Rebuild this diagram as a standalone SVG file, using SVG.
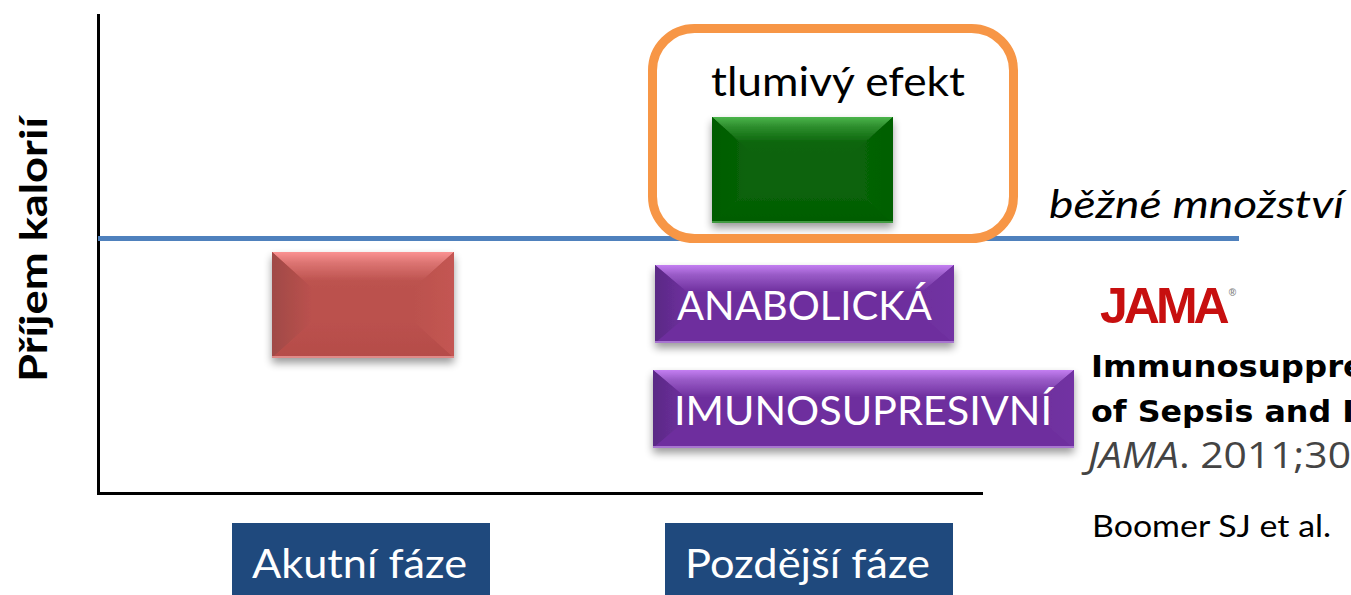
<svg xmlns="http://www.w3.org/2000/svg" width="1351" height="595" viewBox="0 0 1351 595">
<style>
text{font-family:"Lato","Open Sans","Liberation Sans",sans-serif}
.w{fill:#fff;font-size:41px}
.k{fill:#000}
.axis{fill:none;stroke:#000;stroke-width:3}
.pb{fill:#6e2f9e}.rb{fill:#bb514e}.gb{fill:#0a640a}
.shadow{filter:url(#sh)}
.cit{font-family:"DejaVu Sans",sans-serif;font-size:30px;font-weight:700;fill:#000}
</style>
<defs>
<filter id="sh" x="-10%" y="-10%" width="120%" height="130%"><feGaussianBlur in="SourceAlpha" stdDeviation="4"/><feOffset dy="5"/><feComponentTransfer><feFuncA type="linear" slope="0.4"/></feComponentTransfer><feMerge><feMergeNode/><feMergeNode in="SourceGraphic"/></feMerge></filter>
<linearGradient id="pt" x1="0" y1="0" x2="0" y2="1"><stop offset="0" stop-color="#c47ff2"/><stop offset=".35" stop-color="#9a5cc8"/><stop offset="1" stop-color="#6e2f9e"/></linearGradient>
<linearGradient id="pl" x1="0" y1="0" x2="1" y2="0"><stop offset="0" stop-color="#5a2a85"/><stop offset="1" stop-color="#6e2f9e"/></linearGradient>
<linearGradient id="pr" x1="1" y1="0" x2="0" y2="0"><stop offset="0" stop-color="#7232a3"/><stop offset="1" stop-color="#6e2f9e"/></linearGradient>
<linearGradient id="rt" x1="0" y1="0" x2="0" y2="1"><stop offset="0" stop-color="#fb9292"/><stop offset=".3" stop-color="#dc7472"/><stop offset=".8" stop-color="#bd534f"/><stop offset="1" stop-color="#bb514e"/></linearGradient>
<linearGradient id="rl" x1="0" y1="0" x2="1" y2="0"><stop offset="0" stop-color="#a04a46"/><stop offset="1" stop-color="#bb514e"/></linearGradient>
<linearGradient id="rr" x1="1" y1="0" x2="0" y2="0"><stop offset="0" stop-color="#c45652"/><stop offset="1" stop-color="#bb514e"/></linearGradient>
<linearGradient id="rd" x1="0" y1="1" x2="0" y2="0"><stop offset="0" stop-color="#b54c48"/><stop offset="1" stop-color="#bb514e"/></linearGradient>
<linearGradient id="gt" x1="0" y1="0" x2="0" y2="1"><stop offset="0" stop-color="#4cb54c"/><stop offset=".25" stop-color="#2f902f"/><stop offset=".7" stop-color="#0c660c"/><stop offset="1" stop-color="#0a640a"/></linearGradient>
<linearGradient id="gl" x1="0" y1="0" x2="1" y2="0"><stop offset="0" stop-color="#005c00"/><stop offset="1" stop-color="#0a640a"/></linearGradient>
<linearGradient id="gr" x1="1" y1="0" x2="0" y2="0"><stop offset="0" stop-color="#006000"/><stop offset="1" stop-color="#0a640a"/></linearGradient>
<linearGradient id="gd" x1="0" y1="1" x2="0" y2="0"><stop offset="0" stop-color="#005c00"/><stop offset="1" stop-color="#0a640a"/></linearGradient>
</defs>

<g id="axes">
<path class="axis" d="M98.500 14V493.500H983"/>
</g>
<g id="connectors">
<line x1="98" y1="238.500" x2="1239" y2="238.500" stroke="#4f81bd" stroke-width="5"/>
</g>

<g id="node-ylabel"><text class="k" transform="translate(47 382) rotate(-90)" font-size="38" font-weight="700" textLength="265" lengthAdjust="spacingAndGlyphs">Příjem kalorií</text></g>

<g id="node-red" class="shadow">
<rect class="rb" x="272" y="252" width="182" height="106"/>
<polygon points="272,252 454,252 414,288 312,288" fill="url(#rt)"/>
<polygon points="272,252 312,288 312,322 272,358" fill="url(#rl)"/>
<polygon points="454,252 414,288 414,322 454,358" fill="url(#rr)"/>
<polygon points="272,358 312,322 414,322 454,358" fill="url(#rd)"/>
<path d="M272 357H454" stroke="#e08a88" stroke-width="2"/>
</g>

<g id="node-green" class="shadow">
<rect class="gb" x="712" y="117" width="181" height="106"/>
<polygon points="712,117 893,117 853,153 752,153" fill="url(#gt)"/>
<polygon points="712,117 752,153 752,187 712,223" fill="url(#gl)"/>
<polygon points="893,117 853,153 853,187 893,223" fill="url(#gr)"/>
<polygon points="712,223 752,187 853,187 893,223" fill="url(#gd)"/>
<path d="M712 222H893" stroke="#3f9a3f" stroke-width="2"/>
</g>

<g id="node-highlight">
<rect x="652.500" y="28.500" width="361" height="210" rx="42" fill="none" stroke="#f79646" stroke-width="9"/>
<text class="k" x="711" y="96" font-size="41" textLength="254" lengthAdjust="spacingAndGlyphs">tlumivý efekt</text>
</g>

<g id="node-anabolicka">
<g class="shadow">
<rect class="pb" x="655" y="265" width="299" height="78"/>
<polygon points="655,265 954,265 922,292 687,292" fill="url(#pt)"/>
<polygon points="655,265 687,292 687,316 655,343" fill="url(#pl)"/>
<polygon points="954,265 922,292 922,316 954,343" fill="url(#pr)"/>
<path d="M655 342H954" stroke="#a875d0" stroke-width="2"/>
</g>
<text class="w" x="677" y="320" textLength="255" lengthAdjust="spacingAndGlyphs">ANABOLICKÁ</text>
</g>

<g id="node-imunosupresivni">
<g class="shadow">
<rect class="pb" x="653" y="370" width="421" height="78"/>
<polygon points="653,370 1074,370 1042,397 685,397" fill="url(#pt)"/>
<polygon points="653,370 685,397 685,421 653,448" fill="url(#pl)"/>
<polygon points="1074,370 1042,397 1042,421 1074,448" fill="url(#pr)"/>
<path d="M653 447H1074" stroke="#a875d0" stroke-width="2"/>
</g>
<text class="w" x="674" y="425" textLength="378" lengthAdjust="spacingAndGlyphs">IMUNOSUPRESIVNÍ</text>
</g>

<g id="node-akutni">
<rect x="232" y="523" width="258" height="72" fill="#1f497d"/>
<text class="w" x="252" y="578" textLength="215" lengthAdjust="spacingAndGlyphs">Akutní fáze</text>
</g>
<g id="node-pozdejsi">
<rect x="665" y="523" width="288" height="72" fill="#1f497d"/>
<text class="w" x="685" y="578" textLength="245" lengthAdjust="spacingAndGlyphs">Pozdější fáze</text>
</g>

<g id="node-bezne"><text class="k" x="1049" y="218" font-size="38" font-style="italic" textLength="295" lengthAdjust="spacingAndGlyphs">běžné množství</text></g>

<g id="node-citation">
<text x="1100" y="323" font-size="50" font-weight="700" fill="#c70f0f" letter-spacing="-4" style="font-family:'Liberation Sans',sans-serif">JAMA<tspan font-size="10" fill="#888" dx="3" dy="-27" letter-spacing="0">®</tspan></text>
<text class="cit" x="1091" y="377" textLength="274" lengthAdjust="spacingAndGlyphs">Immunosuppre</text>
<text class="cit" x="1091" y="422" textLength="263" lengthAdjust="spacingAndGlyphs">of Sepsis and I</text>
<text x="1088" y="468" font-size="37" fill="#444" textLength="263" lengthAdjust="spacingAndGlyphs" style="font-family:'Open Sans',sans-serif"><tspan font-style="italic">JAMA</tspan>. 2011;30</text>
<text class="k" x="1092" y="537" font-size="30" textLength="239" lengthAdjust="spacingAndGlyphs">Boomer SJ et al.</text>
</g>
</svg>
